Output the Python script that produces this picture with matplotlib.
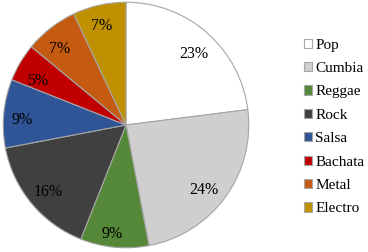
import matplotlib.pyplot as plt
import numpy as np

genres = ['Pop', 'Cumbia', 'Reggae', 'Rock', 'Salsa', 'Bachata', 'Metal', 'Electro']
shares = [23, 24, 9, 16, 9, 5, 7, 7]
colors = ['#FFFFFF', '#D0CECE', '#568839', '#404040', '#2F5597', '#C00000', '#C55A11', '#BF9000']

# where each percentage sits: fraction of radius and angle nudge (deg) from wedge middle
label_r = [0.81, 0.82, 0.885, 0.825, 0.845, 0.81, 0.83, 0.845]
label_nudge = [-1.5, -3, -1.7, 0.6, 2, 3.4, 2.7, 1]

plt.rcParams['font.family'] = ['Liberation Serif', 'DejaVu Serif']

fig = plt.figure(figsize=(3.68, 2.52), dpi=100)
ax = fig.add_axes([2 / 368, 3 / 252, 248 / 368, 248 / 252])

wedges, texts, autotexts = ax.pie(
    shares, colors=colors, startangle=90, counterclock=False,
    autopct='%1.0f%%', pctdistance=0.82,
    wedgeprops=dict(edgecolor='#A6A6A6', linewidth=0.8),
    textprops=dict(fontsize=11.5, color='black'))

for w, t, r, d in zip(wedges, autotexts, label_r, label_nudge):
    mid = np.deg2rad((w.theta1 + w.theta2) / 2 + d)
    t.set_position((r * np.cos(mid), r * np.sin(mid) - 0.012))

ax.set_xlim(-1.01, 1.01)
ax.set_ylim(-1.01, 1.01)
ax.set_aspect('equal')

leg = fig.legend(wedges, genres, loc='upper left', bbox_to_anchor=(296 / 368, 1 - 31 / 252),
                 frameon=False, fontsize=11, labelspacing=0.68,
                 handlelength=0.55, handleheight=0.55, handletextpad=0.2, borderpad=0)

fig.savefig('out.png', dpi=100)
